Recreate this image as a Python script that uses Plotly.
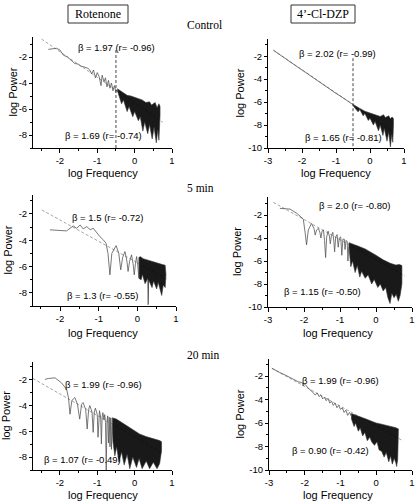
import plotly.graph_objects as go

W, H = 415, 502

# ---------------- data ----------------
col_labels = ["Rotenone", "4’-Cl-DZP"]
row_labels = ["Control", "5 min", "20 min"]
beta_texts = [
    ["β = 1.97 (r= -0.96)", "β = 1.69 (r= -0.74)"],
    ["β = 2.02 (r= -0.99)", "β = 1.65 (r= -0.81)"],
    ["β = 1.5 (r= -0.72)", "β = 1.3 (r= -0.55)"],
    ["β = 2.0 (r= -0.80)", "β = 1.15 (r= -0.50)"],
    ["β = 1.99 (r= -0.96)", "β = 1.07 (r= -0.49)"],
    ["β = 1.99 (r= -0.96)", "β = 0.90 (r= -0.42)"],
]
xtick_left = [-2, -1, 0, 1]
xtick_right = [-3, -2, -1, 0, 1]
ytick_left = [-8, -6, -4, -2]
ytick_right = [-10, -8, -6, -4, -2]

# Panel 1: Control / Rotenone
p1_x = [-2.31, -2.09, -2.0, -1.91, -1.8, -1.73, -1.6, -1.5, -1.45, -1.38, -1.25, -1.2, -1.15, -1.1, -1.05, -1.0,
        -0.95, -0.9, -0.87, -0.82, -0.78, -0.74, -0.7, -0.66, -0.62, -0.58, -0.54, -0.5, -0.46]
p1_y = [-1.41, -1.33, -1.46, -1.85, -2.0, -2.15, -2.5, -2.55, -2.7, -2.74, -2.87, -3.0, -3.3, -3.0, -3.6, -3.2,
        -3.5, -4.2, -3.4, -3.9, -3.6, -4.3, -3.8, -4.4, -4.0, -4.6, -4.2, -4.7, -4.45]
p1_up_x = [-0.46, -0.4, -0.3, -0.2, -0.1, 0.0, 0.1, 0.2, 0.3, 0.4, 0.45, 0.55, 0.6, 0.65, 0.68]
p1_up_y = [-4.45, -4.55, -4.75, -4.95, -5.0, -5.1, -5.25, -5.3, -5.5, -5.45, -5.7, -5.5, -5.9, -5.6, -5.8]
p1_lo_x = [-0.46, -0.4, -0.35, -0.3, -0.2, -0.15, -0.05, 0.0, 0.1, 0.15, 0.22, 0.27, 0.35, 0.4, 0.47, 0.52,
           0.58, 0.62, 0.65, 0.68]
p1_lo_y = [-4.6, -5.2, -5.6, -5.3, -6.2, -5.8, -6.6, -6.2, -6.9, -6.6, -7.7, -7.0, -7.9, -7.2, -8.3, -7.4,
           -8.6, -7.6, -8.4, -6.5]
p1_fit_x = [-2.49, 0.755]
p1_fit_y = [-0.62, -7.02]
p1_cut_x = [-0.5, -0.5]
p1_cut_y = [-1.46, -9.0]

# Panel 2: Control / 4'-Cl-DZP
p2_x = [-2.84, -2.7, -2.55, -2.45, -2.35, -2.2, -2.0, -1.8, -1.6, -1.4, -1.2, -1.0, -0.85, -0.7, -0.6, -0.5]
p2_y = [-1.48, -1.78, -2.08, -2.25, -2.5, -2.8, -3.2, -3.62, -4.02, -4.42, -4.82, -5.24, -5.52, -5.84, -6.02, -6.22]
p2_up_x = [-0.5, -0.4, -0.3, -0.15, 0.0, 0.15, 0.3, 0.4, 0.45, 0.55, 0.6, 0.65, 0.69]
p2_up_y = [-6.2, -6.35, -6.55, -6.8, -6.95, -7.1, -7.25, -7.1, -7.35, -7.2, -7.45, -7.3, -7.45]
p2_lo_x = [-0.5, -0.42, -0.35, -0.3, -0.2, -0.15, -0.05, 0.0, 0.1, 0.15, 0.25, 0.3, 0.38, 0.42, 0.5, 0.55,
           0.6, 0.64, 0.67, 0.69]
p2_lo_y = [-6.3, -6.6, -6.85, -6.65, -7.2, -7.0, -7.6, -7.4, -8.0, -7.7, -8.5, -8.0, -8.9, -8.3, -9.4, -8.6,
           -9.9, -8.8, -9.5, -8.0]
p2_fit_x = [-2.84, 0.69]
p2_fit_y = [-1.48, -8.61]
p2_cut_x = [-0.5, -0.5]
p2_cut_y = [-2.17, -10.0]

# Panel 3: 5 min / Rotenone
p3_x = [-2.26, -1.83, -1.66, -1.57, -1.48, -1.40, -1.31, -1.22, -1.14, -1.05, -0.97, -0.88, -0.81, -0.76, -0.71,
        -0.66, -0.55, -0.48, -0.43, -0.38, -0.32, -0.27, -0.24, -0.2, -0.15, -0.11, -0.08, -0.05, -0.02, 0.01, 0.04]
p3_y = [-3.21, -3.29, -2.91, -3.09, -2.84, -3.14, -2.96, -3.2, -3.09, -3.47, -3.72, -3.97, -4.23, -5.0, -6.63,
        -5.0, -4.41, -5.0, -6.25, -5.3, -4.86, -5.6, -6.37, -5.6, -5.11, -5.8, -6.63, -5.8, -5.24, -5.9, -6.88]
p3_up_x = [0.04, 0.08, 0.15, 0.25, 0.35, 0.45, 0.55, 0.65, 0.72]
p3_up_y = [-5.3, -5.25, -5.4, -5.5, -5.55, -5.7, -5.75, -5.85, -5.9]
p3_lo_x = [0.04, 0.1, 0.13, 0.2, 0.27, 0.28, 0.29, 0.38, 0.42, 0.5, 0.54, 0.6, 0.63, 0.67, 0.72, 0.74]
p3_lo_y = [-6.9, -7.0, -6.6, -7.3, -6.9, -8.9, -7.0, -7.6, -7.1, -7.7, -7.2, -7.9, -8.2, -7.4, -7.6, -6.6]
p3_fit_x = [-2.47, 0.757]
p3_fit_y = [-1.70, -6.94]

# Panel 4: 5 min / 4'-Cl-DZP
p4_x = [-2.67, -2.39, -2.2, -2.02, -1.97, -1.93, -1.88, -1.79, -1.72, -1.69, -1.65, -1.6, -1.56, -1.53, -1.5,
        -1.46, -1.43, -1.40, -1.37, -1.33, -1.29, -1.27, -1.24, -1.2, -1.17, -1.15, -1.12, -1.08, -1.05, -1.02,
        -0.98, -0.95, -0.92, -0.88, -0.86, -0.83, -0.8, -0.78, -0.75]
p4_y = [-1.42, -1.48, -1.85, -2.35, -3.5, -4.6, -3.3, -2.73, -3.2, -3.74, -3.3, -3.16, -3.5, -4.0, -3.4,
        -3.3, -4.2, -5.7, -3.9, -3.4, -3.9, -4.5, -3.8, -3.5, -4.3, -5.2, -3.9, -3.7, -4.8, -4.0,
        -3.9, -5.5, -4.1, -4.1, -5.0, -4.2, -4.3, -6.0, -4.4]
p4_up_x = [-0.75, -0.6, -0.5, -0.3, -0.15, 0.0, 0.2, 0.4, 0.55, 0.65, 0.72]
p4_up_y = [-4.4, -4.55, -4.7, -4.95, -5.2, -5.5, -5.9, -6.2, -6.35, -6.3, -6.4]
p4_lo_x = [-0.75, -0.72, -0.7, -0.65, -0.58, -0.52, -0.45, -0.4, -0.3, -0.22, -0.12, -0.05, 0.05, 0.12, 0.2,
           0.27, 0.33, 0.39, 0.44, 0.5, 0.56, 0.62, 0.67, 0.72]
p4_lo_y = [-4.8, -5.6, -6.5, -6.0, -7.0, -6.4, -7.4, -6.9, -7.5, -7.2, -8.0, -7.6, -8.3, -8.0, -8.6,
           -8.3, -9.2, -9.7, -8.8, -9.2, -8.9, -9.5, -9.0, -8.0]
p4_fit_x = [-2.85, 0.8]
p4_fit_y = [-0.9, -7.3]

# Panel 5: 20 min / Rotenone
p5_x = [-2.4, -2.31, -2.13, -1.96, -1.82, -1.77, -1.73, -1.68, -1.6, -1.53, -1.47, -1.42, -1.38, -1.31, -1.27,
        -1.23, -1.2, -1.14, -1.11, -1.08, -1.05, -1.0, -0.98, -0.96, -0.94, -0.91, -0.89, -0.87, -0.85, -0.82,
        -0.8, -0.78, -0.76, -0.74, -0.72, -0.7, -0.68, -0.66, -0.64, -0.62, -0.6]
p5_y = [-1.97, -1.9, -1.85, -2.23, -2.74, -3.4, -4.67, -3.6, -3.38, -3.9, -5.05, -3.9, -3.77, -4.3, -5.82,
        -4.3, -4.0, -4.5, -6.08, -4.5, -4.2, -4.7, -6.46, -4.7, -4.4, -4.9, -6.97, -4.9, -4.55, -5.1,
        -4.7, -5.3, -9.0, -5.2, -4.8, -6.9, -4.9, -7.2, -4.95, -7.4, -4.95]
p5_up_x = [-0.6, -0.49, -0.3, -0.1, 0.13, 0.3, 0.5, 0.67, 0.72]
p5_up_y = [-4.95, -5.05, -5.4, -5.8, -6.2, -6.4, -6.55, -6.72, -6.8]
p5_lo_x = [-0.6, -0.58, -0.53, -0.48, -0.42, -0.35, -0.28, -0.2, -0.13, -0.05, 0.05,
           0.12, 0.2, 0.31, 0.4, 0.5, 0.6, 0.67, 0.72]
p5_lo_y = [-5.6, -6.8, -7.9, -7.2, -8.4, -7.6, -8.6, -7.8, -8.9, -8.0, -8.8,
           -8.1, -8.9, -8.3, -8.9, -8.4, -8.9, -8.5, -7.5]
p5_fit_x = [-2.72, 0.71]
p5_fit_y = [-1.9, -7.62]

# Panel 6: 20 min / 4'-Cl-DZP
p6_x = [-2.92, -2.8, -2.7, -2.55, -2.4, -2.3, -2.18, -2.1, -1.99, -1.9, -1.8, -1.71, -1.65, -1.6, -1.55, -1.5,
        -1.45, -1.4, -1.35, -1.3, -1.25, -1.2, -1.15, -1.1, -1.05, -1.0, -0.95, -0.9, -0.85, -0.8, -0.75, -0.7]
p6_y = [-1.34, -1.55, -1.7, -1.91, -2.15, -2.35, -2.49, -2.55, -2.71, -3.05, -3.3, -3.62, -3.45, -3.75, -3.6,
        -3.95, -3.8, -4.1, -3.9, -4.3, -4.15, -4.5, -4.3, -4.7, -4.5, -4.85, -4.7, -5.1, -4.9, -5.35, -5.1, -5.4]
p6_up_x = [-0.7, -0.55, -0.4, -0.25, -0.13, 0.0, 0.15, 0.3, 0.43, 0.55, 0.62]
p6_up_y = [-5.2, -5.35, -5.5, -5.7, -5.85, -6.0, -6.1, -6.2, -6.3, -6.4, -6.5]
p6_lo_x = [-0.7, -0.62, -0.58, -0.5, -0.45, -0.38, -0.32, -0.25, -0.18, -0.13, -0.05, 0.02, 0.08, 0.15, 0.22,
           0.28, 0.35, 0.4, 0.45, 0.5, 0.55, 0.57, 0.6, 0.62]
p6_lo_y = [-5.6, -6.3, -6.0, -6.7, -6.4, -7.1, -6.8, -7.5, -7.2, -7.6, -7.9, -7.6, -8.3, -8.4, -8.9,
           -8.5, -9.3, -8.8, -9.5, -9.0, -9.4, -9.7, -9.1, -8.5]
p6_fit_x = [-2.92, 0.71]
p6_fit_y = [-1.34, -7.45]

# ---------------- layout (pixel boxes) ----------------
SANS = "Liberation Sans, Arial, sans-serif"
SERIF = "Liberation Serif, Times New Roman, serif"

panels = [
    dict(x=p1_x, y=p1_y, ux=p1_up_x, uy=p1_up_y, lx=p1_lo_x, ly=p1_lo_y, fx=p1_fit_x, fy=p1_fit_y,
         cx=p1_cut_x, cy=p1_cut_y, box=(33, 172, 37, 148), xr=[-2.72, 1.0], yr=[-9, -0.46],
         xt=xtick_left, yt=ytick_left, t1=(116.5, 47.5), t2=(103.5, 135), ytitle=12, xtitle=(102.5, 173)),
    dict(x=p2_x, y=p2_y, ux=p2_up_x, uy=p2_up_y, lx=p2_lo_x, ly=p2_lo_y, fx=p2_fit_x, fy=p2_fit_y,
         cx=p2_cut_x, cy=p2_cut_y, box=(268, 404, 39, 148), xr=[-3, 1], yr=[-10, -0.5],
         xt=xtick_right, yt=ytick_right, t1=(337.5, 53.5), t2=(343, 137), ytitle=239, xtitle=(336, 173)),
    dict(x=p3_x, y=p3_y, ux=p3_up_x, uy=p3_up_y, lx=p3_lo_x, ly=p3_lo_y, fx=p3_fit_x, fy=p3_fit_y,
         cx=None, cy=None, box=(33, 176, 195, 306), xr=[-2.7, 1.0], yr=[-9, -0.56],
         xt=xtick_left, yt=ytick_left, t1=(107, 217), t2=(102.5, 295), ytitle=7, xtitle=(102.5, 333)),
    dict(x=p4_x, y=p4_y, ux=p4_up_x, uy=p4_up_y, lx=p4_lo_x, ly=p4_lo_y, fx=p4_fit_x, fy=p4_fit_y,
         cx=None, cy=None, box=(268, 412, 197, 307), xr=[-3, 1], yr=[-10, -0.43],
         xt=xtick_right, yt=ytick_right, t1=(354.5, 205.5), t2=(322, 291.5), ytitle=237, xtitle=(338, 333)),
    dict(x=p5_x, y=p5_y, ux=p5_up_x, uy=p5_up_y, lx=p5_lo_x, ly=p5_lo_y, fx=p5_fit_x, fy=p5_fit_y,
         cx=None, cy=None, box=(33, 172, 362, 470), xr=[-2.72, 1.0], yr=[-9, -0.62],
         xt=xtick_left, yt=ytick_left, t1=(103.5, 384), t2=(82.5, 459), ytitle=6, xtitle=(102.5, 495)),
    dict(x=p6_x, y=p6_y, ux=p6_up_x, uy=p6_up_y, lx=p6_lo_x, ly=p6_lo_y, fx=p6_fit_x, fy=p6_fit_y,
         cx=None, cy=None, box=(269, 412, 359, 470), xr=[-3, 1], yr=[-10, -0.55],
         xt=xtick_right, yt=ytick_right, t1=(340, 380), t2=(330, 450), ytitle=239, xtitle=(338, 495)),
]


def px(x):
    return x / W


def py(y):
    return 1 - y / H


fig = go.Figure()
annotations = []
shapes = []
layout_axes = {}

for i, p in enumerate(panels):
    n = i + 1
    xa = "x" if n == 1 else f"x{n}"
    ya = "y" if n == 1 else f"y{n}"
    l, r, t, b = p["box"]

    # fit (dashed, light grey)
    fig.add_trace(go.Scatter(x=p["fx"], y=p["fy"], mode="lines", xaxis=xa, yaxis=ya,
                             line=dict(color="#9a9a9a", width=0.9, dash="3px,2px"),
                             hoverinfo="skip", showlegend=False))
    # dense high-frequency part as filled envelope
    bx = list(p["ux"]) + list(p["lx"])[::-1]
    by = list(p["uy"]) + list(p["ly"])[::-1]
    fig.add_trace(go.Scatter(x=bx, y=by, mode="lines", fill="toself", fillcolor="rgba(0,0,0,0.9)",
                             xaxis=xa, yaxis=ya, line=dict(color="#333", width=0.6),
                             hoverinfo="skip", showlegend=False))
    # sparse low-frequency spectrum
    fig.add_trace(go.Scatter(x=p["x"] + [p["ux"][0]], y=p["y"] + [p["uy"][0]], mode="lines",
                             xaxis=xa, yaxis=ya, line=dict(color="#555", width=0.8),
                             hoverinfo="skip", showlegend=False))
    # cut-off line
    if p["cx"] is not None:
        fig.add_trace(go.Scatter(x=p["cx"], y=p["cy"], mode="lines", xaxis=xa, yaxis=ya,
                                 line=dict(color="#333", width=0.9, dash="3px,2px"),
                                 hoverinfo="skip", showlegend=False))

    tick_font = dict(family=SANS, size=9.5, color="black")
    layout_axes["xaxis" if n == 1 else f"xaxis{n}"] = dict(
        domain=[px(l), px(r)], range=p["xr"], anchor=ya, showgrid=False, zeroline=False,
        showline=True, linecolor="black", linewidth=1, ticks="outside", ticklen=4, tickwidth=1,
        tickcolor="black", tickvals=p["xt"], ticktext=[str(v) for v in p["xt"]], tickfont=tick_font,
        minor=dict(dtick=0.5, tick0=0, ticks="outside", ticklen=2, tickcolor="black"),
        automargin=False, fixedrange=True)
    layout_axes["yaxis" if n == 1 else f"yaxis{n}"] = dict(
        domain=[py(b), py(t)], range=p["yr"], anchor=xa, showgrid=False, zeroline=False,
        showline=True, linecolor="black", linewidth=1, ticks="outside", ticklen=3, tickwidth=1,
        tickcolor="black", tickvals=p["yt"], ticktext=[str(v) for v in p["yt"]], tickfont=tick_font,
        minor=dict(dtick=1, tick0=1, ticks="outside", ticklen=2, tickcolor="black"),
        automargin=False, fixedrange=True)

    for (tx, ty), txt in zip([p["t1"], p["t2"]], beta_texts[i]):
        annotations.append(dict(x=px(tx), y=py(ty), xref="paper", yref="paper", text=txt,
                                showarrow=False, xanchor="center", yanchor="middle",
                                font=dict(family=SANS, size=9.5, color="black")))
    annotations.append(dict(x=px(p["ytitle"]), y=py((t + b) / 2), xref="paper", yref="paper",
                            text="log Power", textangle=-90, showarrow=False,
                            xanchor="center", yanchor="middle",
                            font=dict(family=SANS, size=11, color="black")))
    annotations.append(dict(x=px(p["xtitle"][0]), y=py(p["xtitle"][1]), xref="paper", yref="paper",
                            text="log Frequency", showarrow=False, xanchor="center", yanchor="middle",
                            font=dict(family=SANS, size=11, color="black")))

# column header boxes
for lab, (l, r, t, b) in zip(col_labels, [(68, 128, 5, 23), (291, 355, 5, 23)]):
    shapes.append(dict(type="rect", xref="paper", yref="paper", x0=px(l), x1=px(r), y0=py(b), y1=py(t),
                       line=dict(color="#333", width=1), fillcolor="rgba(0,0,0,0)"))
    annotations.append(dict(x=px((l + r) / 2), y=py((t + b) / 2), xref="paper", yref="paper", text=lab,
                            showarrow=False, xanchor="center", yanchor="middle",
                            font=dict(family=SERIF, size=12, color="black")))

# row labels
for lab, yy in zip(row_labels, [25, 188, 355]):
    annotations.append(dict(x=px(185), y=py(yy), xref="paper", yref="paper", text=lab, showarrow=False,
                            xanchor="left", yanchor="middle",
                            font=dict(family=SERIF, size=11.5, color="black")))

fig.update_layout(width=W, height=H, margin=dict(l=0, r=0, t=0, b=0, autoexpand=False),
                  paper_bgcolor="white", plot_bgcolor="white", showlegend=False,
                  annotations=annotations, shapes=shapes, **layout_axes)

fig.write_html("out.html", config={"displayModeBar": False},
               post_script="document.body.style.margin='0';document.body.style.overflow='hidden';")
